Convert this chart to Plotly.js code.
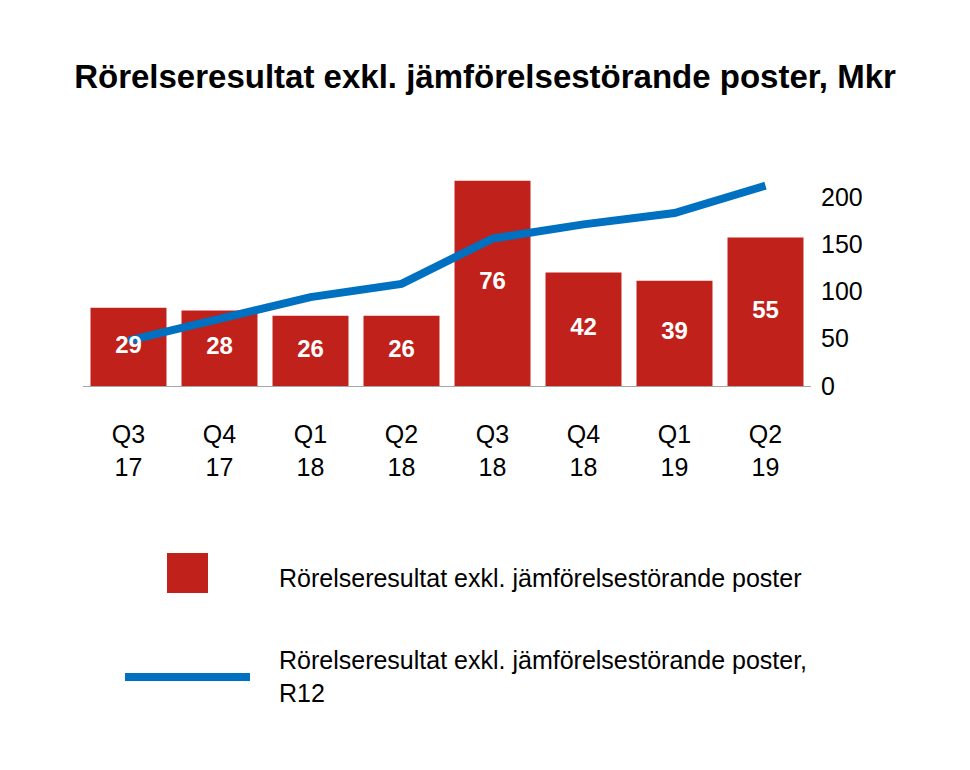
<!DOCTYPE html>
<html>
<head>
<meta charset="utf-8">
<script src="https://cdn.plot.ly/plotly-3.0.1.min.js"></script>
<style>html,body{margin:0;padding:0;background:#fff;}</style>
</head>
<body>
<div id="chart" style="width:970px;height:770px;"></div>
<script>
const categories = ["Q3<br>17","Q4<br>17","Q1<br>18","Q2<br>18","Q3<br>18","Q4<br>18","Q1<br>19","Q2<br>19"];
const quarterValues = [29, 28, 26, 26, 76, 42, 39, 55];
const r12Values = [48, 71, 94, 108, 156, 171, 183, 212];
const rightTicks = [0, 50, 100, 150, 200];
const titleText = "Rörelseresultat exkl. jämförelsestörande poster, Mkr";
const barName = "Rörelseresultat exkl. jämförelsestörande poster";
const lineName = "Rörelseresultat exkl. jämförelsestörande poster,<br>R12";

const FONT = "Liberation Sans, Arial, sans-serif";
const BAR_COLOR = "#c0211a";
const LINE_COLOR = "#0070c0";
const BAR_RANGE = [0, 87.4];

const traces = [
  {
    type: "bar",
    x: categories,
    y: quarterValues,
    name: barName,
    marker: {color: BAR_COLOR},
    hoverinfo: "x+y",
    yaxis: "y"
  },
  {
    type: "scatter",
    mode: "lines",
    x: categories,
    y: r12Values,
    name: lineName,
    line: {color: LINE_COLOR, width: 8},
    yaxis: "y2"
  },
  {
    // value labels, centred in each bar, drawn above the line
    type: "scatter",
    mode: "text",
    x: categories,
    y: quarterValues.map(v => v / 2),
    text: quarterValues.map(String),
    textposition: "middle center",
    textfont: {family: FONT, size: 24, color: "#ffffff", weight: "bold"},
    hoverinfo: "skip",
    yaxis: "y3"
  }
];

const layout = {
  width: 970,
  height: 770,
  margin: {l: 83, r: 159, t: 150, b: 384},
  paper_bgcolor: "#ffffff",
  plot_bgcolor: "#ffffff",
  showlegend: false,
  bargap: 0.165,
  font: {family: FONT, color: "#000000"},
  title: {
    text: "<b>" + titleText + "</b>",
    font: {family: FONT, size: 33, color: "#000000"},
    x: 0.5, xanchor: "center",
    y: 0.901, yanchor: "middle",
    xref: "container", yref: "container"
  },
  xaxis: {
    type: "category",
    showgrid: false,
    zeroline: false,
    showline: true,
    linecolor: "#a6a6a6",
    linewidth: 1,
    ticks: "outside",
    ticklen: 26,
    tickcolor: "rgba(0,0,0,0)",
    tickfont: {family: FONT, size: 25, color: "#000000"}
  },
  yaxis: {
    range: BAR_RANGE,
    visible: false,
    showgrid: false,
    zeroline: false
  },
  yaxis2: {
    overlaying: "y",
    side: "right",
    range: [0, 249.7],
    tickvals: rightTicks,
    ticktext: rightTicks.map(String),
    showgrid: false,
    zeroline: false,
    showline: false,
    ticks: "outside",
    ticklen: 4,
    tickcolor: "rgba(0,0,0,0)",
    tickfont: {family: FONT, size: 25, color: "#000000"}
  },
  yaxis3: {
    overlaying: "y",
    range: BAR_RANGE,
    visible: false,
    showgrid: false,
    zeroline: false
  },
  shapes: [
    {type: "rect", xref: "paper", yref: "paper",
     x0: 0.1154, x1: 0.1717, y0: -0.877, y1: -0.708,
     fillcolor: BAR_COLOR, line: {width: 0}},
    {type: "line", xref: "paper", yref: "paper",
     x0: 0.0577, x1: 0.2294, y0: -1.233, y1: -1.233,
     line: {color: LINE_COLOR, width: 8}}
  ],
  annotations: [
    {xref: "paper", yref: "paper", x: 0.2665, y: -0.8136,
     xanchor: "left", yanchor: "middle", showarrow: false, align: "left",
     text: barName, font: {family: FONT, size: 25, color: "#000000"}},
    {xref: "paper", yref: "paper", x: 0.2665, y: -1.23,
     xanchor: "left", yanchor: "middle", showarrow: false, align: "left",
     text: lineName, font: {family: FONT, size: 25, color: "#000000"}}
  ]
};

Plotly.newPlot("chart", traces, layout, {displayModeBar: false, staticPlot: true});
</script>
</body>
</html>
